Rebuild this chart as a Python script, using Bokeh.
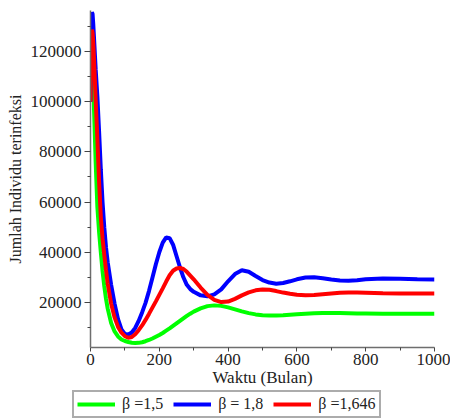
from bokeh.plotting import figure
from bokeh.models import Range1d, FixedTicker, Legend, LegendItem, BasicTickFormatter
from bokeh.embed import file_html
from bokeh.resources import INLINE

# ---- data ----
t = [0, 2, 4, 6, 8, 10,
     15, 20, 25, 30, 35, 40, 45, 50,
     60, 70, 80, 90, 100, 110, 120, 130, 140, 150, 160, 170, 180, 190, 200,
     210, 220, 230, 240, 250, 260, 270, 280, 290, 300,
     320, 340, 360, 380, 400, 420, 440, 460, 480, 500, 520, 540, 560, 580, 600,
     625, 650, 675, 700, 725, 750, 775, 800,
     850, 900, 950, 1000]

beta_15 = [100000, 113000, 117000, 114000, 107000, 98000,
           76000, 58000, 48000, 40000, 32500, 26500, 21500, 17500,
           11800, 8400, 6400, 5200, 4600, 4200, 3900, 3800, 3850, 4100, 4500, 5000, 5600, 6300, 7000,
           7800, 8700, 9600, 10600, 11600, 12600, 13600, 14600, 15500, 16300,
           17600, 18500, 18800, 18600, 18000, 17200, 16400, 15700, 15200, 14900, 14800, 14800, 14900, 15100, 15300,
           15500, 15700, 15800, 15800, 15800, 15700, 15600, 15600,
           15500, 15500, 15500, 15500]

beta_18 = [100000, 127000, 135700, 135000, 131000, 126000,
           113000, 102000, 88000, 73000, 60000, 50000, 42000, 36000,
           27000, 19500, 13300, 9200, 7400, 7200, 8000, 9800, 12600, 16000, 19800, 24500, 29800, 35200, 40000,
           43800, 45900, 45600, 43000, 38500, 34000, 30000, 27000, 25300, 24200,
           22800, 22400, 23200, 25200, 28400, 31300, 32800, 32200, 30500, 28900, 27900, 27400, 27700, 28400, 29200,
           29900, 30000, 29600, 29100, 28700, 28600, 28800, 29200,
           29500, 29400, 29200, 29100]

beta_1646 = [100000, 122000, 128800, 127500, 123500, 117500,
             101000, 85000, 68000, 54000, 45500, 39000, 33000, 27500,
             19500, 14000, 10200, 7900, 6500, 5900, 6200, 7300, 8900, 10800, 13000, 15400, 17900, 20400, 23000,
             25600, 28300, 30800, 32600, 33500, 33700, 33300, 32200, 30700, 29200,
             25900, 23000, 21000, 20100, 20300, 21400, 22800, 24000, 24800, 25100, 25000, 24500, 23900, 23400, 23000,
             22800, 22900, 23200, 23500, 23800, 23900, 23900, 23800,
             23600, 23500, 23500, 23500]

labels = ["\u03b2 =1,5", "\u03b2 = 1,8", "\u03b2 =1,646"]
colors = ["#00ff00", "#0000ff", "#ff0000"]
series = [beta_15, beta_18, beta_1646]

x_major = [0, 200, 400, 600, 800, 1000]
x_minor = [100, 300, 500, 700, 900]
y_major = [20000, 40000, 60000, 80000, 100000, 120000]
y_minor = [10000, 30000, 50000, 70000, 90000, 110000, 130000]

FONT = "Liberation Serif"

p = figure(width=450, height=390, output_backend="svg", toolbar_location=None,
           x_range=Range1d(0, 1000), y_range=Range1d(2000, 136400),
           min_border_left=90, min_border_right=16, min_border_top=10, min_border_bottom=43)
p.outline_line_color = None
p.grid.visible = False
p.background_fill_color = "white"
p.border_fill_color = "white"

for ys, c in zip(series, colors):
    p.line(t, ys, line_color=c, line_width=4)

for ax in (p.xaxis[0], p.yaxis[0]):
    ax.axis_line_color = "#6e6e6e"
    ax.axis_line_width = 1.5
    ax.major_tick_line_color = "#444444"
    ax.minor_tick_line_color = "#444444"
    ax.major_tick_in = 0
    ax.minor_tick_in = 0
    ax.major_label_text_font = FONT
    ax.major_label_text_font_size = "17px"
    ax.major_label_text_color = "#222222"
    ax.axis_label_text_font = FONT
    ax.axis_label_text_font_style = "normal"
    ax.axis_label_text_color = "#222222"

p.xaxis.ticker = FixedTicker(ticks=x_major, minor_ticks=x_minor)
p.yaxis.ticker = FixedTicker(ticks=y_major, minor_ticks=y_minor)
p.yaxis.formatter = BasicTickFormatter(use_scientific=False)

p.xaxis.major_tick_out = 4
p.xaxis.minor_tick_out = 3
p.xaxis.major_label_standoff = 2
p.xaxis.axis_label = "Waktu (Bulan)"
p.xaxis.axis_label_text_font_size = "17px"
p.xaxis.axis_label_standoff = 0

p.yaxis.major_tick_out = 6
p.yaxis.minor_tick_out = 3
p.yaxis.major_label_standoff = 3
p.yaxis.axis_label = "Jumlah Individu terinfeksi"
p.yaxis.axis_label_text_font_size = "16px"
p.yaxis.axis_label_standoff = 4

# legend strip below the chart (its key lines reuse the series; they fall outside this strip's view)
pl = figure(width=450, height=28, output_backend="svg", toolbar_location=None,
            x_range=Range1d(0, 1), y_range=Range1d(0, 1),
            x_axis_type=None, y_axis_type=None, min_border=0)
pl.outline_line_color = None
pl.background_fill_color = "white"
pl.border_fill_color = "white"
keys = [pl.line(t, ys, line_color=c, line_width=4) for ys, c in zip(series, colors)]

legend = Legend(items=[LegendItem(label=l, renderers=[r]) for l, r in zip(labels, keys)],
                orientation="horizontal", location=(72, 0),
                glyph_width=38, glyph_height=16, label_height=16, label_width=10,
                label_standoff=7, spacing=10, padding=3, margin=0,
                label_text_font=FONT, label_text_font_size="16px", label_text_color="#222222",
                border_line_color="#5a5a5a", border_line_width=2,
                background_fill_color="white", background_fill_alpha=1.0)
pl.add_layout(legend, "center")

open("out.html", "w").write(file_html([p, pl], INLINE))
